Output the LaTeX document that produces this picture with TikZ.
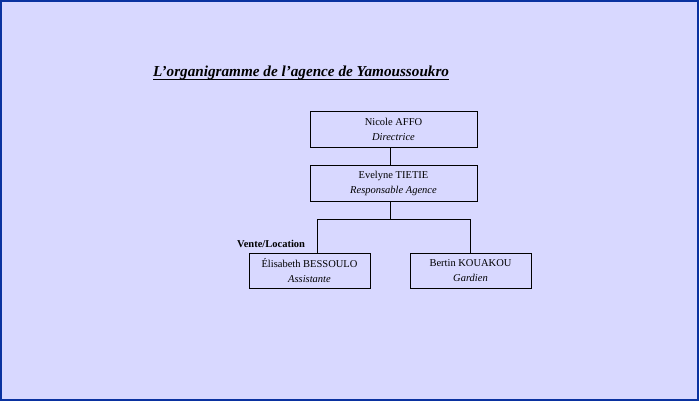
\documentclass[tikz,border=0pt]{standalone}
\usepackage{fontspec}
\setmainfont{Liberation Serif}
\definecolor{pagebg}{RGB}{216,216,255}
\definecolor{frameblue}{RGB}{10,50,160}
\begin{document}
\begin{tikzpicture}[x=1pt,y=-1pt,
  person/.style={draw=black, line width=0.6pt, minimum width=167pt, minimum height=36pt,
    align=center, font=\fontsize{10.5}{15}\selectfont, inner sep=0pt},
  staff/.style={person, minimum width=121pt, minimum height=35pt},
  link/.style={draw=black, line width=0.6pt}]
  % page background and frame
  \fill[pagebg] (0,0) rectangle (699,401);
  \draw[frameblue, line width=2pt] (1,1) rectangle (698,400);
  \useasboundingbox (0,0) rectangle (699,401);

  % title with its underline
  \node[anchor=base west, inner sep=0pt, font=\fontsize{15.2}{17}\selectfont\bfseries\itshape]
    (title) at (153,77) {L’organigramme de l’agence de Yamoussoukro};
  \draw[line width=0.8pt] ([yshift=-2pt]title.base west) -- ([yshift=-2pt]title.base east);

  % boxes
  \node[person] (dir) at (393.5,129) {Nicole AFFO\\\textit{Directrice}};
  \node[person] (resp) at (393.5,183) {Evelyne TIETIE\\\textit{Responsable Agence}};
  \node[staff] (assist) at (309.5,270.5) {Élisabeth BESSOULO\\\textit{Assistante}};
  \node[staff] (gard) at (470.5,270.5) {Bertin KOUAKOU\\\textit{Gardien}};

  % department label
  \node[anchor=base west, inner sep=0pt, font=\fontsize{10.5}{12}\selectfont\bfseries]
    (dept) at (237,247.5) {Vente/Location};

  % connectors
  \draw[link] ([xshift=-3pt]dir.south) -- ([xshift=-3pt]resp.north);
  \draw[link] ([xshift=-3pt]resp.south) -- ++(0,18) coordinate (split);
  \draw[link] (split) -| ([xshift=7.5pt]assist.north);
  \draw[link] (split) -| (gard.north);
\end{tikzpicture}
\end{document}
